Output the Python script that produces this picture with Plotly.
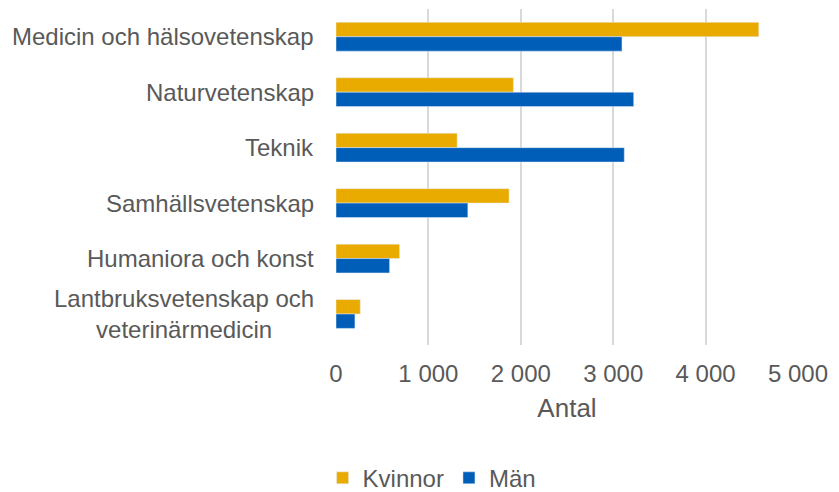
import plotly.graph_objects as go

categories = ["Medicin och hälsovetenskap", "Naturvetenskap", "Teknik",
              "Samhällsvetenskap", "Humaniora och konst",
              "Lantbruksvetenskap och<br>veterinärmedicin"]
kvinnor = [4576, 1920, 1311, 1873, 688, 263]
man = [3095, 3222, 3120, 1427, 580, 205]
tick_vals = [0, 1000, 2000, 3000, 4000, 5000]
tick_text = ["0", "1 000", "2 000", "3 000", "4 000", "5 000"]

FONT = "Liberation Sans, Arial, sans-serif"
GRAY = "#595959"

fig = go.Figure()
fig.add_trace(go.Bar(y=categories, x=kvinnor, name="Kvinnor", orientation="h",
                     marker=dict(color="#EAAB00")))
fig.add_trace(go.Bar(y=categories, x=man, name="Män", orientation="h",
                     marker=dict(color="#005EB8")))

for c in categories:
    fig.add_annotation(x=0, xref="paper", y=c, yref="y", text=c,
                       showarrow=False, xanchor="right", xshift=-20,
                       align="center", font=dict(family=FONT, size=24, color=GRAY))

fig.update_layout(
    width=839, height=492,
    margin=dict(l=336, r=41, t=9, b=147),
    paper_bgcolor="white", plot_bgcolor="white",
    barmode="group", bargap=0.48, bargroupgap=0,
    font=dict(family=FONT, size=24, color=GRAY),
    xaxis=dict(range=[0, 5000], tickvals=tick_vals, ticktext=tick_text,
               showgrid=True, gridcolor="#D9D9D9", gridwidth=1.5,
               zeroline=False, showline=False, ticks="",
               ticklabelstandoff=12,
               title=dict(text="Antal", font=dict(size=26, color=GRAY), standoff=12)),
    yaxis=dict(categoryorder="array", categoryarray=categories,
               autorange="reversed", showticklabels=False, showgrid=False,
               zeroline=False, showline=False, ticks=""),
    legend=dict(orientation="h", xref="container", yref="container",
                x=0.515, y=0.028, xanchor="center", yanchor="middle",
                font=dict(size=24, color=GRAY), traceorder="normal",
                itemwidth=30),
    showlegend=True,
)
fig.write_html("out.html", config={"displayModeBar": False},
               post_script="document.body.style.margin='0';document.body.style.overflow='hidden';")
